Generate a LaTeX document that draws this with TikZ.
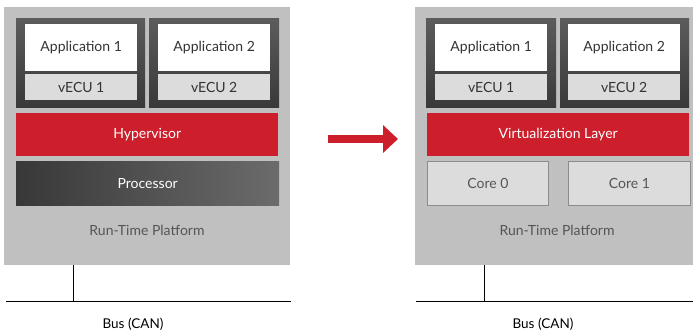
\documentclass[tikz,border=0pt]{standalone}
\usepackage{fontspec}
\setmainfont{Lato}
\usetikzlibrary{arrows.meta}
\definecolor{plat}{HTML}{C0C0C0}
\definecolor{cont}{HTML}{3F3F3F}
\definecolor{lgray}{HTML}{DCDCDC}
\definecolor{vred}{HTML}{CC1F2B}
\definecolor{txt}{HTML}{333333}
\definecolor{mtxt}{HTML}{555555}
\tikzset{
  blk/.style={inner sep=0pt, anchor=north west, font=\fontsize{14}{16}\selectfont},
  platform/.style={blk, fill=plat},
  container/.style={blk, top color=cont!85!white, bottom color=cont!90!black},
  appbox/.style={blk, fill=white, text=txt, minimum width=112pt, minimum height=47pt},
  ecubox/.style={blk, fill=lgray, text=txt, minimum width=112pt, minimum height=26pt},
  redbox/.style={blk, fill=vred, text=white},
  procbox/.style={blk, left color=black!78, right color=black!58, text=white},
  corebox/.style={blk, fill=lgray, draw=black!45, line width=0.8pt, text=mtxt},
  lbl/.style={font=\fontsize{14}{16}\selectfont, text=mtxt},
  buslbl/.style={font=\fontsize{13.5}{16}\selectfont, text=black},
  wire/.style={draw=black, line width=1pt},
  bigarrow/.style={draw=vred, line width=8pt, -{Triangle[length=15pt, width=27pt]}}
}
\begin{document}
\begin{tikzpicture}[x=1pt, y=-1pt]
\useasboundingbox (0,0) rectangle (693,334);
% left platform
\node[platform, minimum width=286pt, minimum height=258pt] (lp) at (4,7) {};
\node[container, minimum width=129pt, minimum height=89pt] (lc1) at (16,18) {};
\node[container, minimum width=130pt, minimum height=89pt] (lc2) at (149,18) {};
\node[appbox] (la1) at (25,24) {Application 1};
\node[ecubox] (le1) at (25,74) {vECU 1};
\node[appbox] (la2) at (158,24) {Application 2};
\node[ecubox] (le2) at (158,74) {vECU 2};
\node[redbox, minimum width=262pt, minimum height=43pt] (hyp) at (16,113) {Hypervisor};
\node[procbox, minimum width=263pt, minimum height=44pt] (proc) at (16,161) {Processor};
\node[lbl] (lrtp) at (147,230) {Run-Time Platform};
\coordinate (ltop) at (73,265);
\coordinate (lbot) at (73,301);
\coordinate (lbs) at (6,301);
\coordinate (lbe) at (291,301);
\draw[wire] (ltop) -- (lbot);
\draw[wire] (lbs) -- (lbe);
\node[buslbl] (lbus) at (133,324) {Bus (CAN)};
% arrow
\coordinate (as) at (328,139);
\coordinate (ae) at (398,139);
\draw[bigarrow] (as) -- (ae);
% right platform
\node[platform, minimum width=278pt, minimum height=258pt] (rp) at (415,7) {};
\node[container, minimum width=130pt, minimum height=89pt] (rc1) at (426,18) {};
\node[container, minimum width=129pt, minimum height=89pt] (rc2) at (560,18) {};
\node[appbox] (ra1) at (435,24) {Application 1};
\node[ecubox] (re1) at (435,74) {vECU 1};
\node[appbox] (ra2) at (568,24) {Application 2};
\node[ecubox] (re2) at (568,74) {vECU 2};
\node[redbox, minimum width=262pt, minimum height=43pt] (virt) at (427,113) {Virtualization Layer};
\node[corebox, minimum width=121pt, minimum height=44pt] (c0) at (427,161) {Core 0};
\node[corebox, minimum width=122pt, minimum height=44pt] (c1) at (568,161) {Core 1};
\node[lbl] (rrtp) at (557,230) {Run-Time Platform};
\coordinate (rtop) at (484,265);
\coordinate (rbot) at (484,301);
\coordinate (rbs) at (416,301);
\coordinate (rbe) at (693,301);
\draw[wire] (rtop) -- (rbot);
\draw[wire] (rbs) -- (rbe);
\node[buslbl] (rbus) at (543,324) {Bus (CAN)};
\end{tikzpicture}
\end{document}
